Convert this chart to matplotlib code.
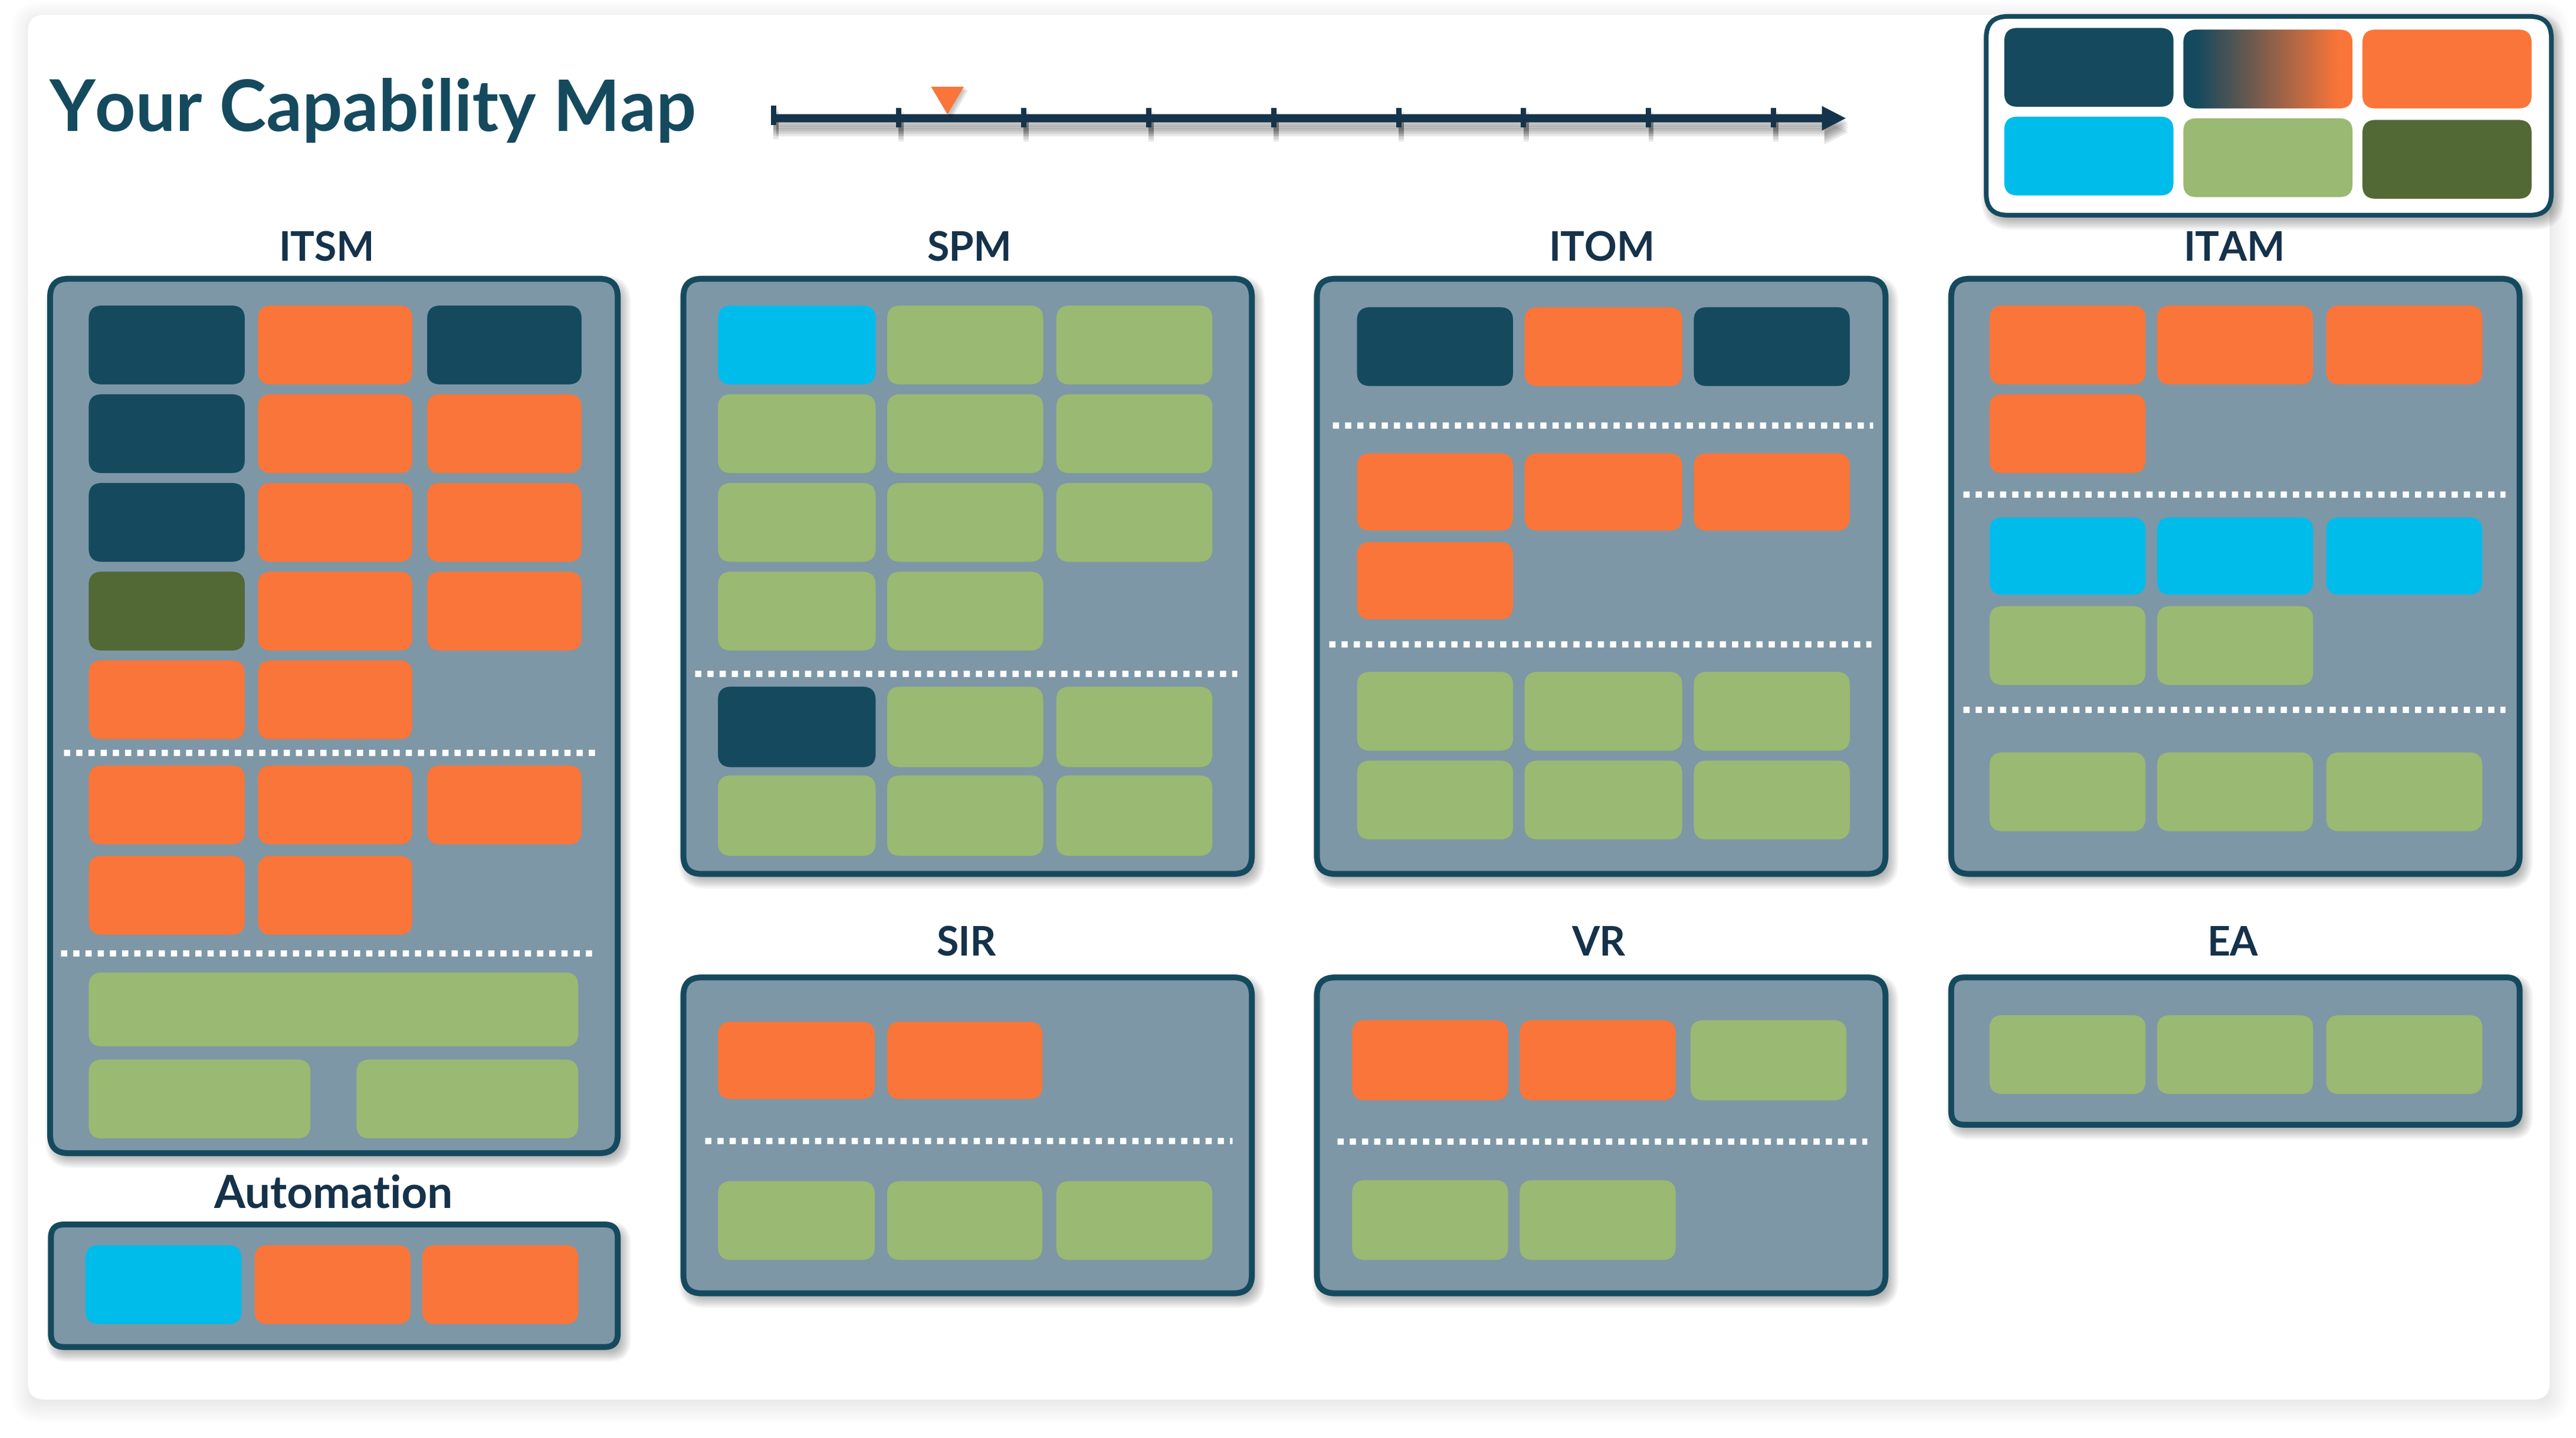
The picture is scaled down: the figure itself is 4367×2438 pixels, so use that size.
import numpy as np
import matplotlib
matplotlib.use("Agg")
import matplotlib.pyplot as plt
from matplotlib.patches import FancyBboxPatch, Polygon, Rectangle

# ---- data: capability status per section (rows of cells) ----
D, O, B, G, L = "#154A5E", "#FA7539", "#00BCEB", "#9AB972", "#526935"
TITLE = "Your Capability Map"
LEGEND_COLORS = [D, "gradient", O, B, G, L]
TIMELINE_TICKS = 9
TIMELINE_MARK = 1.39

ITSM_ROWS = [[D, O, D], [D, O, O], [D, O, O], [L, O, O], [O, O], [O, O, O], [O, O]]
ITSM_WIDE = [[G], [G, G]]
SPM_ROWS = [[B, G, G], [G, G, G], [G, G, G], [G, G], [D, G, G], [G, G, G]]
ITOM_ROWS = [[D, O, D], [O, O, O], [O], [G, G, G], [G, G, G]]
ITAM_ROWS = [[O, O, O], [O], [B, B, B], [G, G], [G, G, G]]
SIR_ROWS = [[O, O], [G, G, G]]
VR_ROWS = [[O, O, G], [G, G]]
EA_ROWS = [[G, G, G]]
AUTO_ROWS = [[B, O, O]]

# ---- layout (display units of a 1568-wide canvas) ----
S = 4367 / 1568
W, H = 4367, 2438
BORDER, PANEL, INK = "#154A5E", "#7D97A6", "#15324A"

fig = plt.figure(figsize=(W / 100, H / 100), dpi=100, facecolor="white")
ax = fig.add_axes([0, 0, 1, 1])
ax.set_axis_off()


def rbox(x0, y0, x1, y1, r, fc, ec="none", lw=0, z=3, alpha=1):
    p = FancyBboxPatch((x0 * S, y0 * S), (x1 - x0) * S, (y1 - y0) * S,
                       boxstyle=f"round,pad=0,rounding_size={r * S}",
                       fc=fc, ec=ec, lw=lw * 0.72, zorder=z, alpha=alpha)
    ax.add_patch(p)
    return p


def shadow(x0, y0, x1, y1, r, dx, dy, blur, strength, n=14, z=2):
    for k in range(n):
        e = blur * (1 - 2 * k / (n - 1)) / 2
        rbox(x0 + dx - e, y0 + dy - e, x1 + dx + e, y1 + dy + e, max(r + e, 0.5),
             "black", z=z, alpha=strength / n)


# page
shadow(17, 9, 1552, 852, 7, 1, 3, 22, 0.16, n=18, z=1)
rbox(17, 9, 1552, 852, 10, "white", z=1.5)

PANELS = [
    ("ITSM", 199, 158.8, (30.5, 169.7, 376, 702), [(54, 149), (157, 251), (260, 354)],
     ITSM_ROWS, [(186, 234), (240, 288), (294, 342), (348, 396), (402, 450), (466, 514), (521, 569)],
     [(458.2, 38.8, 365), (580.3, 37, 362)], 49),
    ("SPM", 590, 158.8, (416, 169.7, 762, 532), [(437, 533), (540, 635), (643, 738)],
     SPM_ROWS, [(186, 234), (240, 288), (294, 342), (348, 396), (418, 467), (472, 521)],
     [(410, 423, 753)], 49),
    ("ITOM", 975, 158.8, (801.6, 169.7, 1147.7, 532), [(826, 921), (928, 1024), (1031, 1126)],
     ITOM_ROWS, [(187, 235), (276, 323), (330, 377), (409, 457), (463, 511)],
     [(259, 811, 1140), (392, 809, 1139)], 49),
    ("ITAM", 1360, 158.8, (1187.7, 169.7, 1533.7, 532), [(1211, 1306), (1313, 1408), (1416, 1511)],
     ITAM_ROWS, [(186, 234), (240, 288), (315, 362), (369, 417), (458, 506)],
     [(301, 1195, 1525), (432, 1195, 1525)], 49),
    ("SIR", 588, 581.8, (416, 595, 762, 787.3), [(437, 532.5), (540, 634.5), (643, 738)],
     SIR_ROWS, [(622, 669), (719, 767)], [(694.5, 429, 750)], 49),
    ("VR", 973, 581.8, (801.6, 595, 1147.7, 787.3), [(823, 918), (925, 1020), (1029, 1124)],
     VR_ROWS, [(621, 669.8), (718.4, 767)], [(694.7, 814, 1136.5)], 49),
    ("EA", 1359, 581.8, (1187.7, 595, 1533.7, 684.7), [(1211, 1306), (1313, 1408), (1416, 1511)],
     EA_ROWS, [(618, 666)], [], 49),
    ("Automation", 203, 735, (31, 745.4, 376, 820), [(52, 147), (155, 250), (257, 352)],
     AUTO_ROWS, [(758, 806)], [], 55),
]

for name, tx, ty, box, cols, rows, ys, dots, fs in PANELS:
    x0, y0, x1, y1 = box
    r = 11 if y1 - y0 > 100 else 8
    shadow(x0, y0, x1, y1, r, 2.5, 3.5, 11, 0.5, z=2)
    rbox(x0, y0, x1, y1, r, PANEL, BORDER, 10, z=3)
    ax.text(tx * S, ty * S, name, ha="center", va="baseline", family="Lato",
            weight="bold", fontsize=fs, color=INK, zorder=6)
    for row, (a, b) in zip(rows, ys):
        for c, (cx0, cx1) in zip(row, cols):
            rbox(cx0, a, cx1, b, 8, c, z=4)
    for (dy, d0, d1) in dots:
        ax.plot([d0 * S, d1 * S], [dy * S, dy * S], color="white", lw=7.6,
                dashes=(1.0, 0.96), dash_capstyle="butt", zorder=5)

# ITSM wide green rows
rbox(54, 592, 352, 637, 8, ITSM_WIDE[0][0], z=4)
rbox(54, 645, 189, 693, 8, ITSM_WIDE[1][0], z=4)
rbox(217, 645, 352, 693, 8, ITSM_WIDE[1][1], z=4)

# title
ax.text(30 * S, 79.7 * S, TITLE, ha="left", va="baseline", family="Lato", weight="bold",
        fontsize=86.5, color=BORDER, zorder=6)

# timeline
x_start, x_step, ty = 471, 76.07, 72
tick_xs = [x_start + i * x_step for i in range(TIMELINE_TICKS)]
layers = [((1.5, 2.5 + 1.5 * j), "black", 0.09, 2) for j in range(5)] + [((0, 0), "#15344B", 1, 5)]
for offs, col, al, z in layers:
    dx, dy = offs
    ax.add_patch(Polygon([((x_start + dx) * S, (ty - 2.5 + dy) * S), ((1109 + dx) * S, (ty - 2.5 + dy) * S),
                          ((1109 + dx) * S, (ty - 7.5 + dy) * S), ((1123.5 + dx) * S, (ty + dy) * S),
                          ((1109 + dx) * S, (ty + 7.5 + dy) * S), ((1109 + dx) * S, (ty + 2.5 + dy) * S),
                          ((x_start + dx) * S, (ty + 2.5 + dy) * S)], fc=col, ec="none", alpha=al, zorder=z))
    for i, tick_x in enumerate(tick_xs):
        top, bot = (ty - 7.7, ty + 4.1) if i == 0 else (ty - 6.3, ty + 5.6)
        ax.add_patch(Rectangle(((tick_x - 1.6 + dx) * S, (top + dy) * S), 3.2 * S, (bot - top) * S, fc=col, ec="none",
                               alpha=al, zorder=z))
mx = x_start + TIMELINE_MARK * x_step
for j in range(4):
    ax.add_patch(Polygon([((mx - 10 + 1 + j * 0.6) * S, (53.5 + j * 0.5) * S), ((mx + 10 + 1 + j * 0.6) * S, (53.5 + j * 0.5) * S),
                          ((mx + 1 + j * 0.6) * S, (71 + j * 0.5) * S)],
                         fc="black", alpha=0.06, ec="none", zorder=5))
ax.add_patch(Polygon([((mx - 10) * S, 52.8 * S), ((mx + 10) * S, 52.8 * S), (mx * S, 69.7 * S)], fc=O, ec="none", zorder=6))

# legend
shadow(1209, 10, 1553, 131, 13, 2.5, 3.5, 11, 0.5, z=2)
rbox(1209, 10, 1553, 131, 13, "white", BORDER, 8, z=3)
LEG_X = [(1220, 1323), (1329, 1432), (1438, 1541)]
LEG_Y = [[(17, 65), (18, 66), (18, 66)], [(71, 119), (72, 120), (73, 121)]]
k = 0
for ry in LEG_Y:
    for (a, b), (c0, c1) in zip(ry, LEG_X):
        col = LEGEND_COLORS[k]
        k += 1
        if col == "gradient":
            p = rbox(c0, a, c1, b, 8, "none", z=4)
            grad = np.linspace(0, 1, 256)[None, :, None]
            s = np.array(matplotlib.colors.to_rgb(D))
            e = np.array(matplotlib.colors.to_rgb(O))
            img = ax.imshow(s + (e - s) * np.clip((grad - 0.08) / 0.84, 0, 1),
                            extent=(c0 * S, c1 * S, b * S, a * S), aspect="auto", zorder=4)
            img.set_clip_path(p)
        else:
            rbox(c0, a, c1, b, 8, col, z=4)

ax.set_xlim(0, W)
ax.set_ylim(H, 0)
fig.savefig("out.png", dpi=100, facecolor="white")
